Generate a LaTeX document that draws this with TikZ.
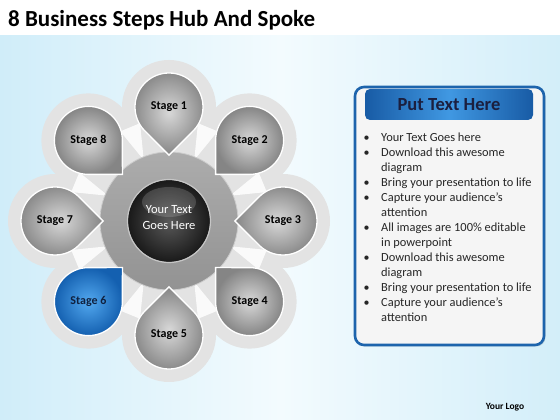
\documentclass[tikz,border=0pt]{standalone}
\usepackage{fontspec}
\setmainfont{Carlito}
\usetikzlibrary{positioning,shadows}

\definecolor{bgblue}{HTML}{D0EDF9}
\definecolor{bgblueR}{HTML}{D3EEF9}
\definecolor{bgpale}{HTML}{F3FBFE}
\definecolor{halogray}{HTML}{E3E3E3}
\definecolor{petalin}{HTML}{D8D8D8}
\definecolor{petalout}{HTML}{858585}
\definecolor{bluein}{HTML}{52A8EF}
\definecolor{blueout}{HTML}{1460B0}
\definecolor{panelblue}{HTML}{1D64AC}
\definecolor{headdark}{HTML}{185BA5}
\definecolor{headlight}{HTML}{4098E2}
\definecolor{navy}{HTML}{1B1F3F}
\definecolor{stagenavy}{HTML}{10213F}

\tikzset{
  stagetext/.style={font=\fontsize{12}{14}\selectfont\bfseries, inner sep=0pt},
  linetext/.style={font=\fontsize{12.4}{14}\selectfont, text=black!85, anchor=base west, inner sep=0pt},
  dotmark/.style={font=\fontsize{12}{14}\selectfont, text=black!85, anchor=base west, inner sep=0pt},
  panel/.style={draw=panelblue, line width=2.6pt, fill=white!96!black, rounded corners=9pt,
    minimum width=189pt, minimum height=258pt, inner sep=0pt,
    drop shadow={shadow xshift=1.5pt, shadow yshift=-1.5pt, opacity=.25}},
  headbar/.style={rounded corners=5pt, minimum width=168pt, minimum height=31pt, inner sep=0pt,
    left color=headdark, right color=headdark, middle color=headlight,
    font=\fontsize{18.5}{21}\selectfont\bfseries, text=navy}
}

\begin{document}
\begin{tikzpicture}[x=1pt,y=1pt]
\useasboundingbox (0,0) rectangle (560,420);
\fill[white] (0,0) rectangle (560,420);
\shade[left color=bgblue, right color=bgblueR, middle color=bgpale] (0,0) rectangle (560,384);
\node[anchor=base west, inner sep=0pt, font=\fontsize{23}{27}\selectfont\bfseries] (title) at (8,393) {8 Business Steps Hub And Spoke};

\begin{scope}[shift={(169,199)}]
\foreach \a in {90,45,...,-225}
  \fill[halogray] (\a:114) circle (47);
\fill[halogray] (0,0) circle (100);
\foreach \b in {22.5,67.5,...,337.5}
  \fill[white, opacity=.85] (\b:66) -- (\b-6:102) -- (\b+6:102) -- cycle;
\shade[top color=gray!65, bottom color=gray!85] (0,0) circle (69);
\draw[gray!40, line width=.8pt] (0,0) circle (69);
\node[circle, minimum size=138pt, inner sep=0pt] (hub) at (0,0) {};
\shade[inner color=black!65, outer color=black!90] (0,0) circle (41);
\draw[gray!45, line width=1.2pt] (0,0) circle (41.5);
\fill[white, opacity=.16] (0,19) ellipse (27 and 15);
\node[white, align=center, inner sep=0pt, font=\fontsize{12.5}{16}\selectfont] (core) at (0,3) {Your Text\\Goes Here};
\foreach \k/\a/\ci/\co/\tc in {1/90/petalin/petalout/black, 2/45/petalin/petalout/black,
    3/0/petalin/petalout/black, 4/-45/petalin/petalout/black, 5/-90/petalin/petalout/black,
    6/-135/bluein/blueout/stagenavy, 7/180/petalin/petalout/black, 8/135/petalin/petalout/black}{
  \begin{scope}[shift={(\a:114)}, rotate=\a]
    \shade[inner color=\ci, outer color=\co, draw=white, line width=1.3pt]
      (-48.1,0) -- (135:34) arc[start angle=135, end angle=-135, radius=34] -- cycle;
  \end{scope}
  \node[stagetext, text=\tc] (s\k) at (\a:114) {Stage \k};
}
\end{scope}

\node[panel] (panel) at (449.5,204) {};
\node[headbar] (head) at (449,315.5) {Put Text Here};
\foreach \n/\t in {1/{Your Text Goes here}, 2/{Download this awesome}, 3/{diagram},
    4/{Bring your presentation to life}, 5/{Capture your audience’s}, 6/{attention},
    7/{All images are 100\% editable}, 8/{in powerpoint}, 9/{Download this awesome},
    10/{diagram}, 11/{Bring your presentation to life}, 12/{Capture your audience’s}, 13/{attention}}
  \node[linetext] (l\n) at (381,293-15*\n) {\t};
\foreach \n in {1,2,4,5,7,9,11,12}
  \node[dotmark] (b\n) at (363.5,293-15*\n) {•};

\node[inner sep=0pt, font=\fontsize{9.5}{11}\selectfont\bfseries] (logo) at (505,13) {Your Logo};
\end{tikzpicture}
\end{document}
